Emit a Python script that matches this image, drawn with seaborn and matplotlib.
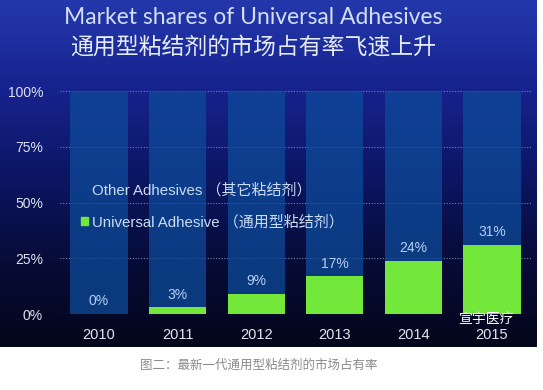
import numpy as np
import matplotlib
matplotlib.use("Agg")
import matplotlib.pyplot as plt
from matplotlib.colors import LinearSegmentedColormap
from matplotlib.patches import Patch
import seaborn as sns

years = ["2010", "2011", "2012", "2013", "2014", "2015"]
universal = [0, 3, 9, 17, 24, 31]
total = [100, 100, 100, 100, 100, 100]
yticks = [0, 25, 50, 75, 100]

sns.set_theme(style="white")
plt.rcParams['font.family'] = ['Liberation Sans', 'Noto Sans CJK SC', 'DejaVu Sans']

fig = plt.figure(figsize=(5.43, 3.90), dpi=100)
fig.patch.set_facecolor("white")

# dark blue gradient panel
bg = fig.add_axes([0, 43 / 390, 537 / 543, 347 / 390])
cmap = LinearSegmentedColormap.from_list("bg", ["#2438ac", "#17238e", "#0c1664", "#070c38", "#04061a"])
grad = np.linspace(0, 1, 256).reshape(-1, 1) * np.ones((1, 64))
bg.imshow(grad, aspect="auto", cmap=cmap, extent=[0, 1, 0, 1], origin="upper")
bg.set_axis_off()

ax = fig.add_axes([59.7 / 543, 76 / 390, 471.6 / 543, 224 / 390])
ax.set_facecolor("none")
ax.set_zorder(2)

sns.barplot(x=years, y=total, color="#0e4a9a", saturation=1, width=0.73,
            alpha=0.75, linewidth=0, ax=ax, zorder=2)
sns.barplot(x=years, y=universal, color="#74e83a", saturation=1, width=0.73,
            linewidth=0, ax=ax, zorder=3)

for c in ax.containers[1:]:
    ax.bar_label(c, labels=[f"{v}%" for v in universal], padding=4,
                 color="#b4d0f4", fontsize=10)

ax.set_ylim(0, 100.5)
ax.set_xlim(-0.5, 5.5)
ax.set_yticks(yticks)
ax.set_yticklabels([f"{v}%" for v in yticks])
ax.yaxis.grid(True, linestyle=(0, (1, 1.5)), color="#6f86b8", linewidth=0.8, zorder=1)
ax.set_axisbelow(True)
ax.tick_params(axis="y", length=0, pad=12, labelsize=10, labelcolor="#dde2ee")
ax.tick_params(axis="x", length=0, pad=10, labelsize=10.5, labelcolor="#e4e6ee")
ax.set_xlabel("")
ax.set_ylabel("")
for s in ax.spines.values():
    s.set_visible(False)

handles = [Patch(facecolor="none", edgecolor="none", label="Other Adhesives （其它粘结剂）"),
           Patch(color="#74e83a", label="Universal Adhesive （通用型粘结剂）")]
leg = ax.legend(handles=handles, loc="upper left", bbox_to_anchor=(0.017, 0.645),
                frameon=False, handlelength=0.45, handleheight=0.45, handletextpad=0.3,
                labelspacing=1.15, fontsize=10.8, labelcolor="#c8dcf6")

fig.text(253 / 543, 1 - 18 / 390, "Market shares of Universal Adhesives",
         ha="center", va="center", fontsize=16.5, color="#d2def2", family="Lato")
fig.text(253 / 543, 1 - 47 / 390, "通用型粘结剂的市场占有率飞速上升",
         ha="center", va="center", fontsize=16.5, color="#e6ecf6", family="Noto Sans CJK SC")
fig.text(486 / 543, 1 - 319 / 390, "宣宇医疗", ha="center", va="center",
         fontsize=10, color="white", family="Noto Sans CJK SC", zorder=5)
fig.text(259 / 543, 1 - 365 / 390, "图二：最新一代通用型粘结剂的市场占有率",
         ha="center", va="center", fontsize=9, color="#8a8a8a", family="Noto Sans CJK SC")

fig.savefig("out.png", dpi=100)
